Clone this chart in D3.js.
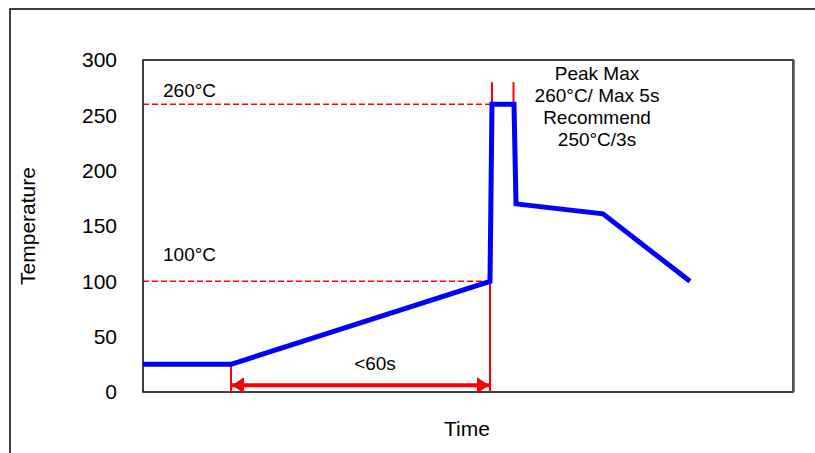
<!DOCTYPE html>
<html lang="en">
<head>
    <meta charset="UTF-8">
    <title>Reflow profile</title>
    <style>
        body { margin: 0; background: #fff; }
        text { font-family: "Liberation Sans", Arial, sans-serif; fill: #000; }
    </style>
</head>
<body>
<script src="https://cdn.jsdelivr.net/npm/d3@7"></script>
<script>
    // profile points (time in arbitrary units, temperature in °C)
    let times = [0, 44, 173.5, 174.5, 185.5, 186.5, 230, 273.5];
    let temps = [25, 25, 100, 260, 260, 170, 161, 100];
    let yTicks = [0, 50, 100, 150, 200, 250, 300];
    let limitTemps = [260, 100];
    let limitLabels = ["260°C", "100°C"];
    let limitLabelTemps = [267, 118];
    let peakNotes = ["Peak Max", "260°C/ Max 5s", "Recommend", "250°C/3s"];

    let width = 815;
    let height = 453;
    let plot = {left: 143, top: 60, right: 793, bottom: 392};

    let svg = d3.select("body").append("svg")
        .attr("width", width)
        .attr("height", height);

    // outer chart border (runs off the right and bottom edge)
    svg.append("rect")
        .attr("x", 10).attr("y", 9)
        .attr("width", 830).attr("height", 470)
        .attr("fill", "none").attr("stroke", "#000").attr("stroke-width", 1.5);

    let x = d3.scaleLinear().domain([0, 325]).range([plot.left, plot.right]);
    let y = d3.scaleLinear().domain([0, 300]).range([plot.bottom, plot.top]);

    // plot frame
    svg.append("rect")
        .attr("x", plot.left).attr("y", plot.top)
        .attr("width", plot.right - plot.left).attr("height", plot.bottom - plot.top)
        .attr("fill", "none").attr("stroke", "#000").attr("stroke-width", 1.5);
    svg.append("line")
        .attr("x1", plot.right + 0.5).attr("x2", plot.right + 0.5)
        .attr("y1", plot.top).attr("y2", plot.bottom)
        .attr("stroke", "#555").attr("stroke-width", 2.5);

    let yAxis = svg.append("g")
        .attr("transform", "translate(" + plot.left + ",0)")
        .call(d3.axisLeft(y).tickValues(yTicks).tickSize(0).tickPadding(26));
    yAxis.select(".domain").remove();
    yAxis.selectAll("text")
        .style("font-family", '"Liberation Sans", Arial, sans-serif')
        .style("font-size", "21px");

    svg.append("text")
        .attr("transform", "translate(35," + (plot.top + plot.bottom) / 2 + ") rotate(-90)")
        .attr("text-anchor", "middle")
        .style("font-size", "21px")
        .text("Temperature");

    svg.append("text")
        .attr("x", 467).attr("y", 436)
        .attr("text-anchor", "middle")
        .style("font-size", "21px")
        .text("Time");

    // dashed limit lines
    svg.selectAll(".limit")
        .data(limitTemps)
        .enter()
        .append("line")
        .attr("class", "limit")
        .attr("x1", x(0)).attr("x2", x(times[2]))
        .attr("y1", d => y(d)).attr("y2", d => y(d))
        .attr("stroke", "#ff0000").attr("stroke-width", 1.5)
        .attr("stroke-dasharray", "6,3");

    svg.selectAll(".limitLabel")
        .data(limitLabels)
        .enter()
        .append("text")
        .attr("class", "limitLabel")
        .attr("x", x(10))
        .attr("y", (d, i) => y(limitLabelTemps[i]))
        .style("font-size", "19px")
        .text(d => d);

    // red marker lines
    let redLines = [
        [times[1], 0, times[1], temps[1]],
        [times[2], 0, times[2], temps[2]],
        [times[3], 260, times[3], 280],
        [185.25, 260, 185.25, 280]
    ];
    svg.selectAll(".marker")
        .data(redLines)
        .enter()
        .append("line")
        .attr("class", "marker")
        .attr("x1", d => x(d[0])).attr("y1", d => y(d[1]))
        .attr("x2", d => x(d[2])).attr("y2", d => y(d[3]))
        .attr("stroke", "#ff0000").attr("stroke-width", 2);

    // double arrow
    let defs = svg.append("defs");
    defs.append("marker")
        .attr("id", "head")
        .attr("viewBox", "0 0 12 16")
        .attr("refX", 12).attr("refY", 8)
        .attr("markerUnits", "userSpaceOnUse")
        .attr("markerWidth", 12).attr("markerHeight", 16)
        .attr("orient", "auto-start-reverse")
        .append("path")
        .attr("d", "M0,0 L12,8 L0,16 Z")
        .attr("fill", "#ff0000");
    svg.append("line")
        .attr("x1", x(times[1]) + 1).attr("x2", x(times[2]) - 1)
        .attr("y1", y(6)).attr("y2", y(6))
        .attr("stroke", "#ff0000").attr("stroke-width", 4)
        .attr("marker-start", "url(#head)")
        .attr("marker-end", "url(#head)");
    svg.append("text")
        .attr("x", x(116)).attr("y", y(20))
        .attr("text-anchor", "middle")
        .style("font-size", "19px")
        .text("<60s");

    // profile line
    let line = d3.line()
        .x((d, i) => x(times[i]))
        .y(d => y(d));
    svg.append("path")
        .datum(temps)
        .attr("d", line)
        .attr("fill", "none")
        .attr("stroke", "#0000ff")
        .attr("stroke-width", 5)
        .attr("stroke-linejoin", "miter");

    svg.selectAll(".note")
        .data(peakNotes)
        .enter()
        .append("text")
        .attr("class", "note")
        .attr("x", x(227))
        .attr("y", (d, i) => 79.5 + i * 22.3)
        .attr("text-anchor", "middle")
        .style("font-size", "19px")
        .text(d => d);
</script>
</body>
</html>
